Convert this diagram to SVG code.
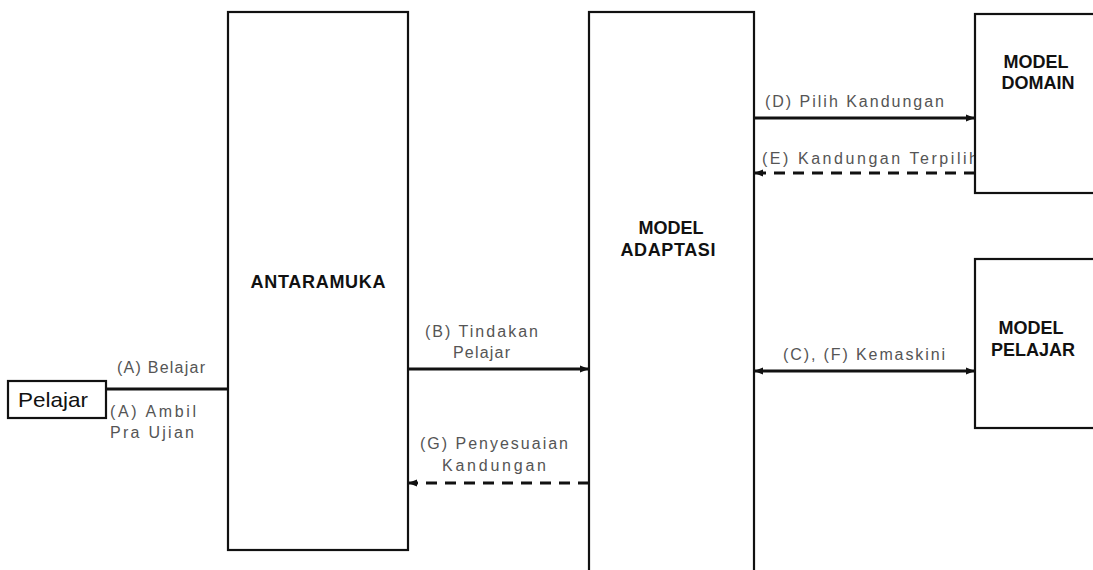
<svg xmlns="http://www.w3.org/2000/svg" width="1093" height="570" viewBox="0 0 1093 570">
<style>
.box{fill:#fff;stroke:#111;stroke-width:2.2}
.title{font-family:"Liberation Sans",Arial,sans-serif;font-weight:bold;font-size:18px;fill:#111}
.lbl{font-family:"Liberation Sans",Arial,sans-serif;font-size:16px;fill:#555}
.ln{fill:none;stroke:#111;stroke-width:3}
.dash{fill:none;stroke:#111;stroke-width:3;stroke-dasharray:11 8}
</style>
<defs>
<marker id="ah" viewBox="0 0 10 10" refX="9" refY="5" markerWidth="3" markerHeight="3" orient="auto-start-reverse" markerUnits="strokeWidth">
<path d="M0,1 L10,5 L0,9 z" fill="#111"/>
</marker>
</defs>
<rect width="1093" height="570" fill="#fff"/>
<g id="connectors">
<line class="ln" x1="106" y1="389" x2="228" y2="389"/>
<line class="ln" x1="408" y1="369" x2="588" y2="369" marker-end="url(#ah)"/>
<line class="dash" x1="589" y1="483" x2="409" y2="483" marker-end="url(#ah)"/>
<line class="ln" x1="754" y1="118" x2="974" y2="118" marker-end="url(#ah)"/>
<line class="dash" x1="975" y1="173" x2="755" y2="173" marker-end="url(#ah)"/>
<line class="ln" x1="755" y1="371" x2="974" y2="371" marker-start="url(#ah)" marker-end="url(#ah)"/>
<text class="lbl" x="117" y="373" textLength="88" lengthAdjust="spacing">(A) Belajar</text>
<text class="lbl" x="110" y="417" textLength="86" lengthAdjust="spacing">(A) Ambil</text>
<text class="lbl" x="110" y="438" textLength="84" lengthAdjust="spacing">Pra Ujian</text>
<text class="lbl" x="425" y="337" textLength="113" lengthAdjust="spacing">(B) Tindakan</text>
<text class="lbl" x="453" y="358" textLength="57" lengthAdjust="spacing">Pelajar</text>
<text class="lbl" x="420" y="449" textLength="148" lengthAdjust="spacing">(G) Penyesuaian</text>
<text class="lbl" x="442" y="471" textLength="104" lengthAdjust="spacing">Kandungan</text>
<text class="lbl" x="765" y="107" textLength="179" lengthAdjust="spacing">(D) Pilih Kandungan</text>
<text class="lbl" x="762" y="164" textLength="216" lengthAdjust="spacing">(E) Kandungan Terpilih</text>
<text class="lbl" x="783" y="360" textLength="162" lengthAdjust="spacing">(C), (F) Kemaskini</text>
</g>
<g id="pelajar">
<rect class="box" x="8" y="381" width="98" height="37"/>
<text x="18" y="407" font-family="'Liberation Sans',Arial,sans-serif" font-size="21" fill="#111" textLength="70" lengthAdjust="spacingAndGlyphs">Pelajar</text>
</g>
<g id="antaramuka">
<rect class="box" x="228" y="12" width="180" height="538"/>
<text class="title" x="318" y="288" text-anchor="middle" textLength="135" lengthAdjust="spacing">ANTARAMUKA</text>
</g>
<g id="model-adaptasi">
<rect class="box" x="589" y="12" width="165" height="570"/>
<text class="title" x="671" y="234" text-anchor="middle">MODEL</text>
<text class="title" x="668" y="256" text-anchor="middle" textLength="95" lengthAdjust="spacing">ADAPTASI</text>
</g>
<g id="model-domain">
<rect class="box" x="975" y="14" width="130" height="179"/>
<text class="title" x="1036" y="68" text-anchor="middle">MODEL</text>
<text class="title" x="1038" y="89" text-anchor="middle">DOMAIN</text>
</g>
<g id="model-pelajar">
<rect class="box" x="975" y="259" width="130" height="169"/>
<text class="title" x="1031" y="334" text-anchor="middle">MODEL</text>
<text class="title" x="1033" y="356" text-anchor="middle">PELAJAR</text>
</g>
</svg>
